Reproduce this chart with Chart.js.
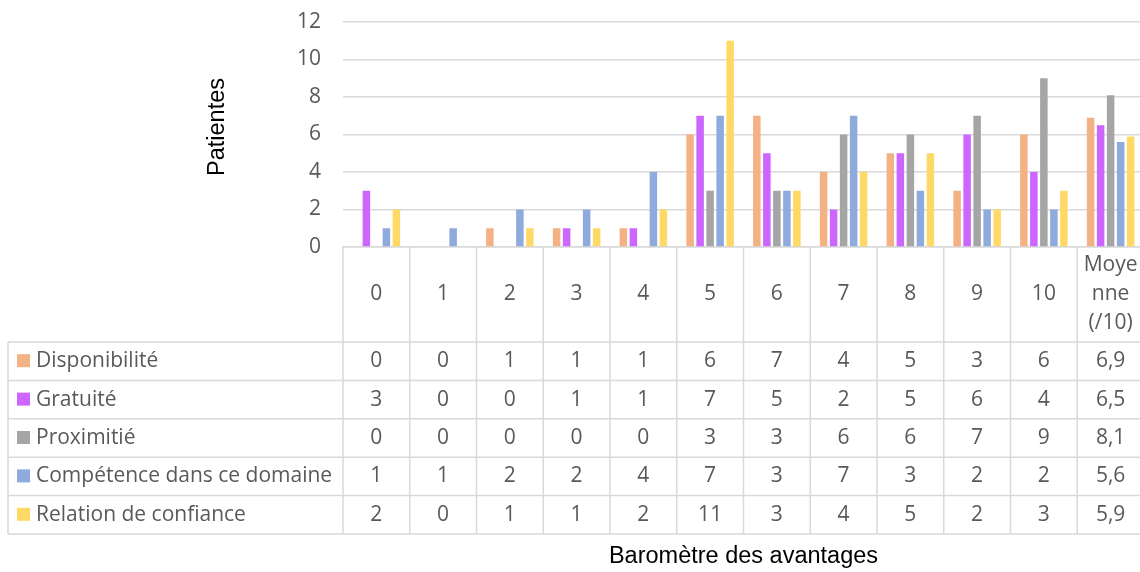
<!DOCTYPE html>
<html><head><meta charset="utf-8">
<script src="https://cdn.jsdelivr.net/npm/chart.js@4/dist/chart.umd.min.js"></script>
<style>html,body{margin:0;padding:0;overflow:hidden;background:#fff;width:1140px;height:572px}
#wrap{position:absolute;left:0;top:0;width:1150px;height:572px}</style></head>
<body><div id="wrap"><canvas id="c" width="1150" height="572"></canvas></div>
<script>
const categories = ['0','1','2','3','4','5','6','7','8','9','10',['Moye','nne','(/10)']];
const seriesNames = ['Disponibilité','Gratuité','Proximitié','Compétence dans ce domaine','Relation de confiance'];
const disponibilite = [0,0,1,1,1,6,7,4,5,3,6,6.9];
const gratuite      = [3,0,0,1,1,7,5,2,5,6,4,6.5];
const proximite     = [0,0,0,0,0,3,3,6,6,7,9,8.1];
const competence    = [1,1,2,2,4,7,3,7,3,2,2,5.6];
const confiance     = [2,0,1,1,2,11,3,4,5,2,3,5.9];
const yTicks = [0,2,4,6,8,10,12];
const yTitle = 'Patientes';
const xTitle = 'Baromètre des avantages';

const seriesValues = [disponibilite, gratuite, proximite, competence, confiance];
const colors = ['#F4B183','#CC66FF','#A5A5A5','#8FAADC','#FFD966'];
const TXT = '#595959';
const LINE = '#D9D9D9';
const TFONT = '21px "Open Sans"';

const tablePlugin = {
  id: 'dataTable',
  afterDraw(chart) {
    const ctx = chart.ctx;
    const xs = chart.scales.x;
    const ca = chart.chartArea;
    const n = categories.length;
    const colW = (ca.right - ca.left) / n;
    const top = ca.bottom;
    const headerH = 95;
    const rowH = 38.4;
    const rowsTop = top + headerH;
    const bottom = rowsTop + rowH * seriesNames.length;
    const legLeft = 8;
    ctx.save();
    ctx.strokeStyle = LINE;
    ctx.lineWidth = 1.5;
    for (let i = 0; i <= n; i++) {
      const x = (i < n ? xs.getPixelForValue(i) - colW / 2 : xs.getPixelForValue(n - 1) + colW / 2);
      ctx.beginPath(); ctx.moveTo(x, top); ctx.lineTo(x, bottom); ctx.stroke();
    }
    ctx.beginPath(); ctx.moveTo(legLeft, rowsTop); ctx.lineTo(legLeft, bottom); ctx.stroke();
    for (let r = 0; r <= seriesNames.length; r++) {
      const y = rowsTop + r * rowH;
      ctx.beginPath(); ctx.moveTo(legLeft, y); ctx.lineTo(ca.right, y); ctx.stroke();
    }
    ctx.fillStyle = TXT;
    ctx.font = TFONT;
    ctx.textAlign = 'center';
    ctx.textBaseline = 'middle';
    const hMid = top + headerH / 2;
    categories.forEach((c, i) => {
      const x = xs.getPixelForValue(i);
      const lines = Array.isArray(c) ? c : [c];
      const lh = 29;
      lines.forEach((t, k) => {
        ctx.fillText(t, x, hMid + (k - (lines.length - 1) / 2) * lh);
      });
    });
    seriesNames.forEach((name, r) => {
      const yMid = rowsTop + r * rowH + rowH / 2;
      ctx.fillStyle = colors[r];
      ctx.fillRect(17, yMid - 7, 13, 13);
      ctx.fillStyle = TXT;
      ctx.textAlign = 'left';
      ctx.fillText(name, 36, yMid);
      ctx.textAlign = 'center';
      seriesValues[r].forEach((v, i) => {
        ctx.fillText(String(v).replace('.', ','), xs.getPixelForValue(i), yMid);
      });
    });
    ctx.fillStyle = '#000';
    ctx.font = '23.5px "Liberation Sans", Arial, sans-serif';
    ctx.textAlign = 'center';
    ctx.fillText(xTitle, (ca.left + ca.right) / 2, 557);
    ctx.save();
    ctx.translate(218, 127);
    ctx.rotate(-Math.PI / 2);
    ctx.fillText(yTitle, 0, 0);
    ctx.restore();
    ctx.restore();
  }
};

new Chart(document.getElementById('c'), {
  type: 'bar',
  data: {
    labels: categories,
    datasets: seriesNames.map((name, i) => ({
      label: name,
      data: seriesValues[i],
      backgroundColor: colors[i],
      categoryPercentage: 0.75,
      barPercentage: 0.75
    }))
  },
  options: {
    responsive: false,
    devicePixelRatio: 1,
    animation: false,
    layout: { padding: { top: 22, right: 6, left: 0, bottom: 0 } },
    plugins: { legend: { display: false }, tooltip: { enabled: false } },
    scales: {
      x: {
        grid: { display: false },
        ticks: { display: false },
        border: { display: true, color: LINE, width: 1.5 },
        afterFit(s) { s.height = 325; s.paddingLeft = 0; s.paddingRight = 0; }
      },
      y: {
        min: 0, max: 12,
        afterBuildTicks(s) { s.ticks = yTicks.map(v => ({ value: v })); },
        ticks: { color: TXT, font: { family: 'Open Sans', size: 21 }, padding: 22 },
        grid: { color: LINE, lineWidth: 1.5, drawTicks: false },
        border: { display: false },
        afterFit(s) { s.width = 343; s.paddingTop = 0; s.paddingBottom = 0; }
      }
    }
  },
  plugins: [tablePlugin]
});
</script></body></html>
